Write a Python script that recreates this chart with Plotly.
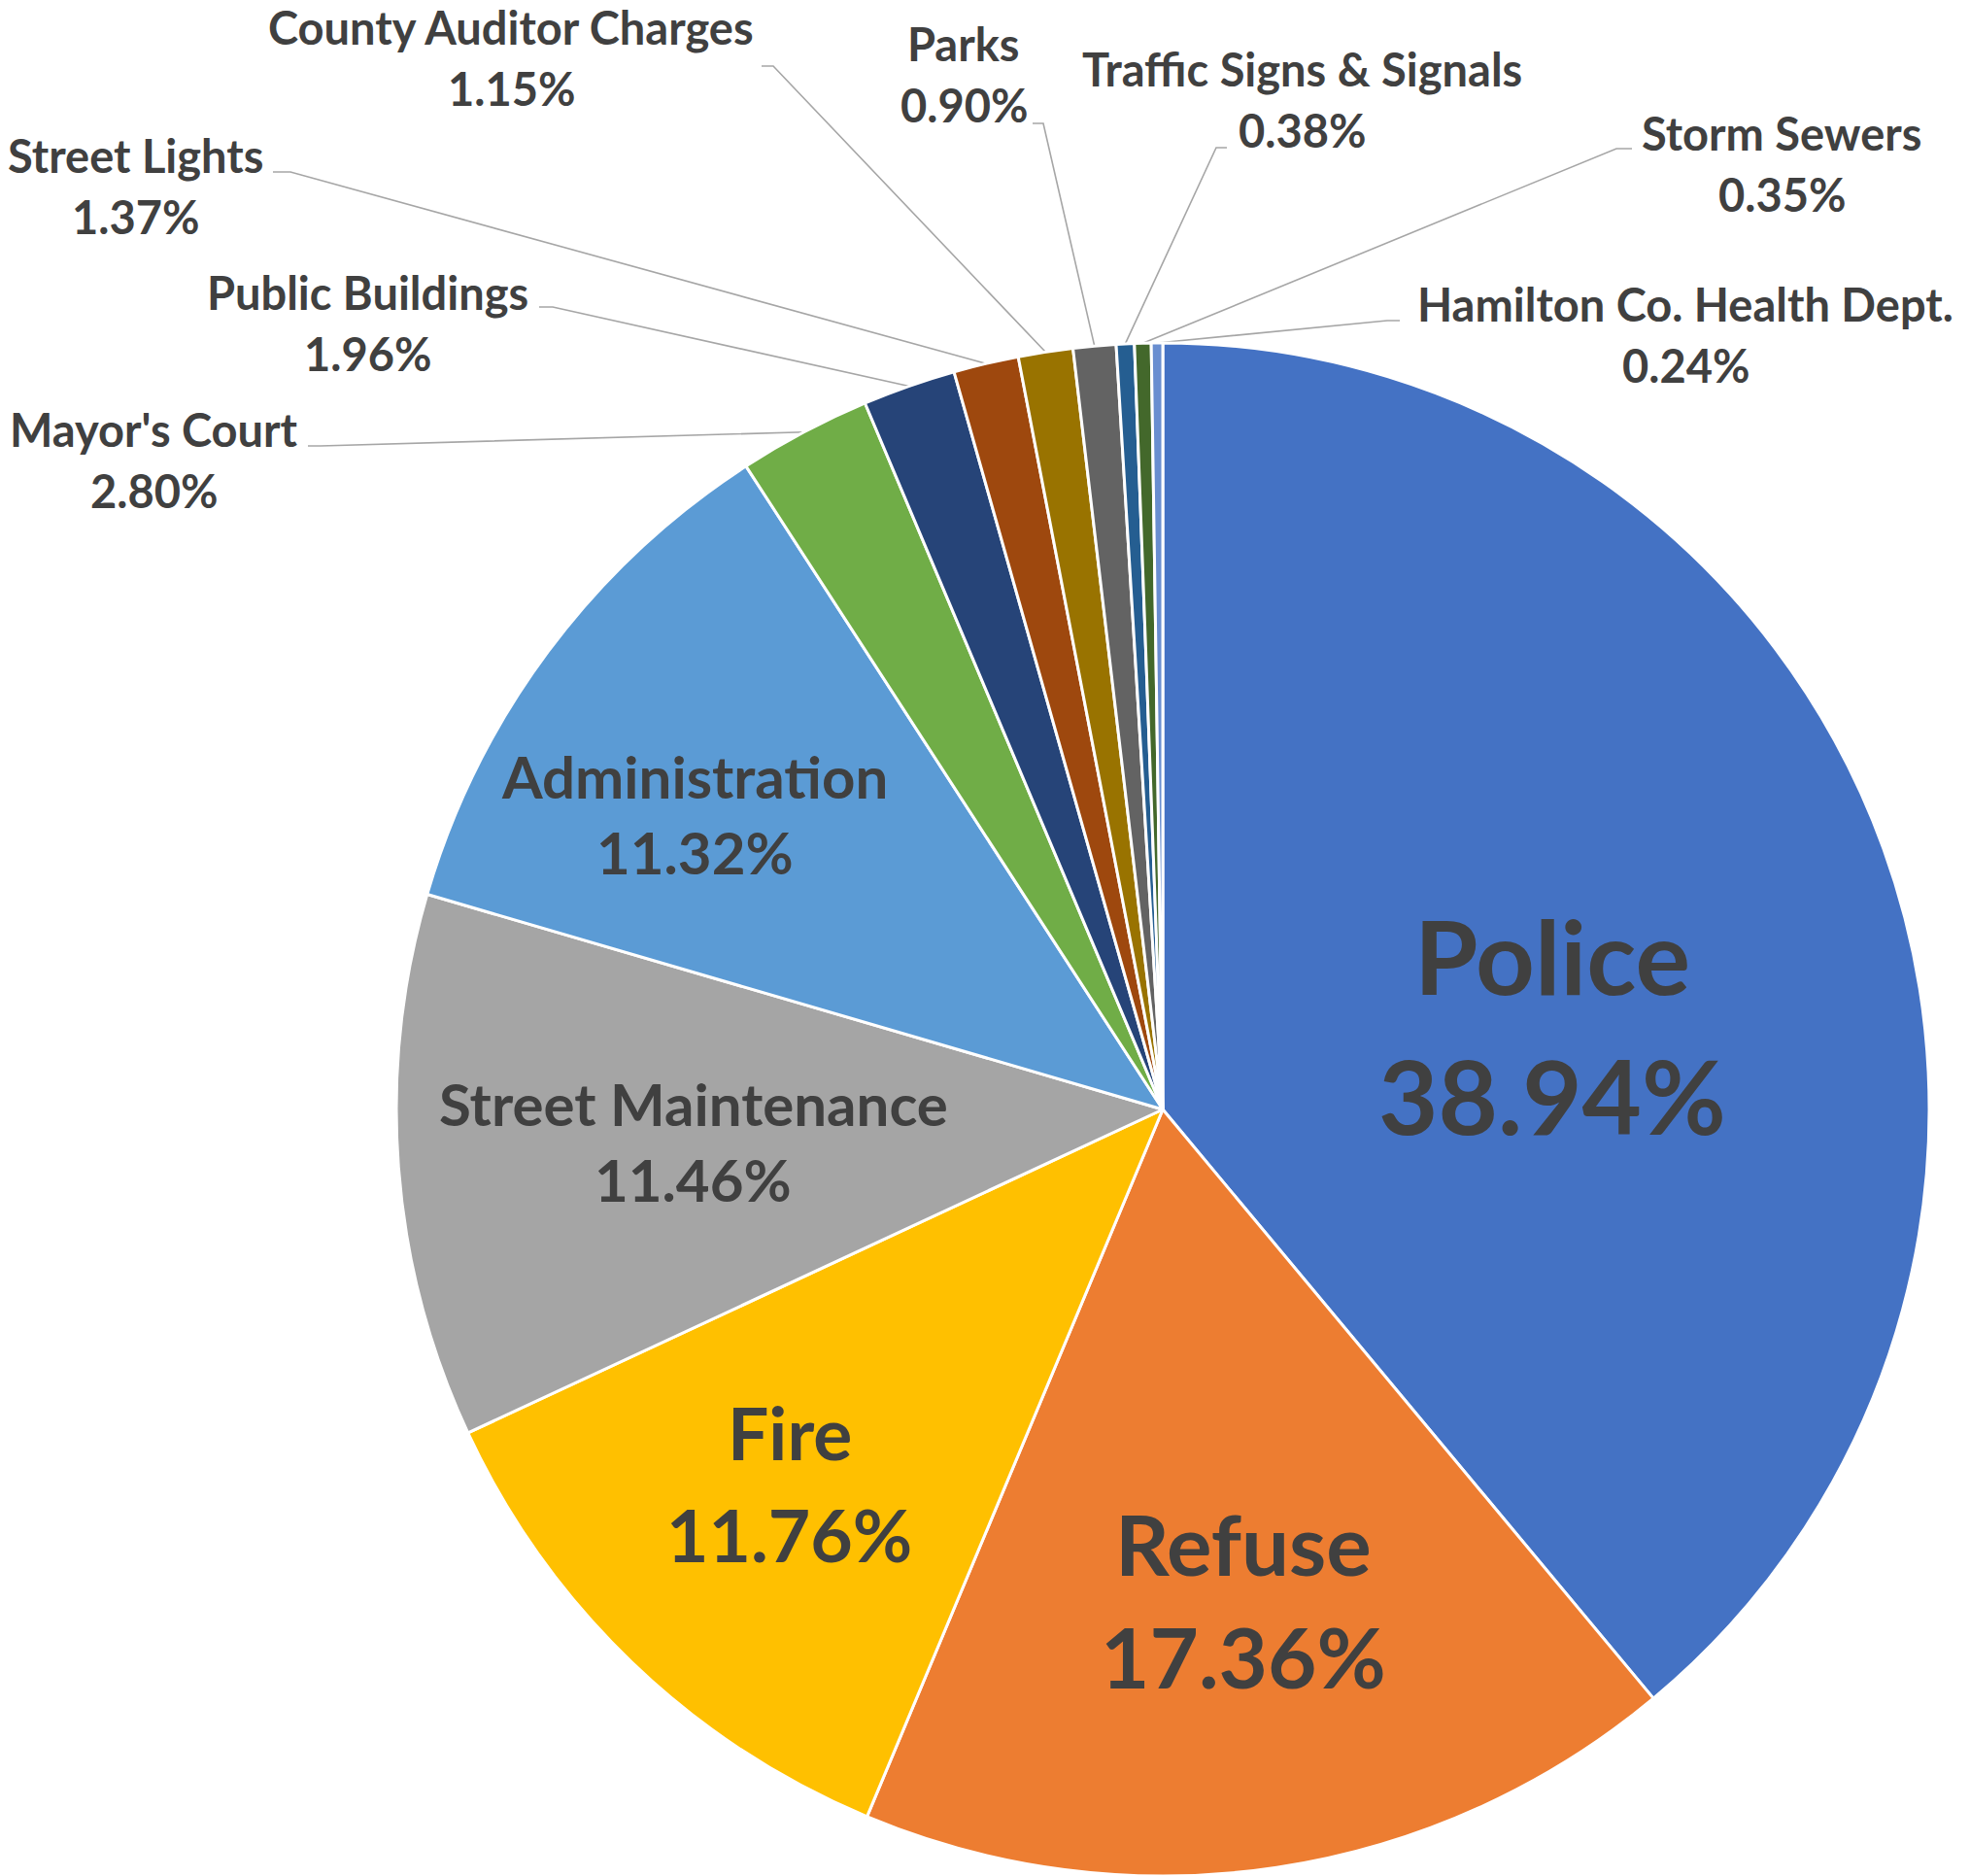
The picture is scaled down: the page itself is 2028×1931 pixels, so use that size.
import math
import plotly.graph_objects as go

# ---------------- data ----------------
categories = ["Police", "Refuse", "Fire", "Street Maintenance", "Administration",
              "Mayor's Court", "Public Buildings", "Street Lights",
              "County Auditor Charges", "Parks", "Traffic Signs & Signals",
              "Storm Sewers", "Hamilton Co. Health Dept."]
shares = [38.94, 17.36, 11.76, 11.46, 11.32, 2.80, 1.96, 1.37, 1.15, 0.90, 0.38, 0.35, 0.24]
colors = ["#4472C4", "#ED7D31", "#FFC000", "#A5A5A5", "#5B9BD5", "#70AD47", "#264478",
          "#9E480E", "#997300", "#636363", "#255E91", "#43682B", "#698ED0"]

# ---------------- layout / style ----------------
W, H = 2028, 1931
DOM_X = [0.2012, 0.9793]
DOM_Y = [0.0, 0.8172]
FONT = "Lato"
TXT = "#404040"
LEADER = "#A6A6A6"

# inside labels: name -> (font size, radial fraction, angle offset deg, line gap px)
inside_style = {
    "Police": (106, 0.52, 7.6, 144),
    "Refuse": (87, 0.648, -0.8, 116),
    "Fire": (75, 0.689, 1.1, 105),
    "Street Maintenance": (60, 0.614, 0.4, 78),
    "Administration": (60, 0.722, -4.4, 78),
}
# outside labels: name -> (block centre x, block centre y, leader start, leader knee)
outside_style = {
    "Mayor's Court": (158, 473, (317, 459), (330, 459)),
    "Public Buildings": (378, 332, (555, 316), (569, 316)),
    "Street Lights": (139, 191.5, (281, 177), (299, 177)),
    "County Auditor Charges": (526, 59.5, (784, 68), (796, 68)),
    "Parks": (992, 76.5, (1063, 127), (1074, 127)),
    "Traffic Signs & Signals": (1340, 102, (1263, 152), (1252, 152)),
    "Storm Sewers": (1834, 168.5, (1680, 153), (1664, 153)),
    "Hamilton Co. Health Dept.": (1735, 344.5, (1441, 330), (1428, 330)),
}
OUT_SIZE = 47
OUT_GAP = 63

# pie geometry in pixel coordinates (derived from the pie domain)
cx = (DOM_X[0] + DOM_X[1]) / 2 * W
cy = H - (DOM_Y[0] + DOM_Y[1]) / 2 * H
R = min((DOM_X[1] - DOM_X[0]) * W, (DOM_Y[1] - DOM_Y[0]) * H) / 2

total = sum(shares)
mids = []
acc = 0.0
for v in shares:
    mids.append((acc + v / 2) / total * 360.0)
    acc += v


def polar(angle_deg, r):
    a = math.radians(angle_deg)
    return cx + r * math.sin(a), cy - r * math.cos(a)


fig = go.Figure()

fig.add_trace(go.Pie(
    labels=categories, values=shares, sort=False, direction="clockwise", rotation=0,
    marker=dict(colors=colors, line=dict(color="white", width=3)),
    textinfo="none", hoverinfo="label+value",
    domain=dict(x=DOM_X, y=DOM_Y), showlegend=False,
))

# leader lines
lx, ly = [], []
for name, v, m in zip(categories, shares, mids):
    if name in outside_style:
        _, _, s, k = outside_style[name]
        ex, ey = polar(m, R)
        lx += [s[0], k[0], ex, None]
        ly += [s[1], k[1], ey, None]
fig.add_trace(go.Scatter(x=lx, y=ly, mode="lines", line=dict(color=LEADER, width=1.6),
                         hoverinfo="skip", showlegend=False))

annotations = []


def add_label(x, y, text, size):
    annotations.append(dict(x=x, y=y, xref="x", yref="y", text=text, showarrow=False,
                            xanchor="center", yanchor="middle",
                            font=dict(family=FONT, size=size, color=TXT, weight="bold")))


for name, v, m in zip(categories, shares, mids):
    pct = f"{v:.2f}%"
    if name in inside_style:
        size, rf, off, gap = inside_style[name]
        bx, by = polar(m + off, rf * R)
    else:
        bx, by, _, _ = outside_style[name]
        size, gap = OUT_SIZE, OUT_GAP
    add_label(bx, by - gap / 2, name, size)
    add_label(bx, by + gap / 2, pct, size)

fig.update_layout(
    width=W, height=H, margin=dict(l=0, r=0, t=0, b=0),
    paper_bgcolor="white", plot_bgcolor="rgba(0,0,0,0)",
    xaxis=dict(range=[0, W], visible=False, fixedrange=True, domain=[0, 1]),
    yaxis=dict(range=[H, 0], visible=False, fixedrange=True, domain=[0, 1]),
    annotations=annotations, showlegend=False,
)

fig.write_html("out.html", config={"displayModeBar": False},
               post_script="document.body.style.margin='0';")
